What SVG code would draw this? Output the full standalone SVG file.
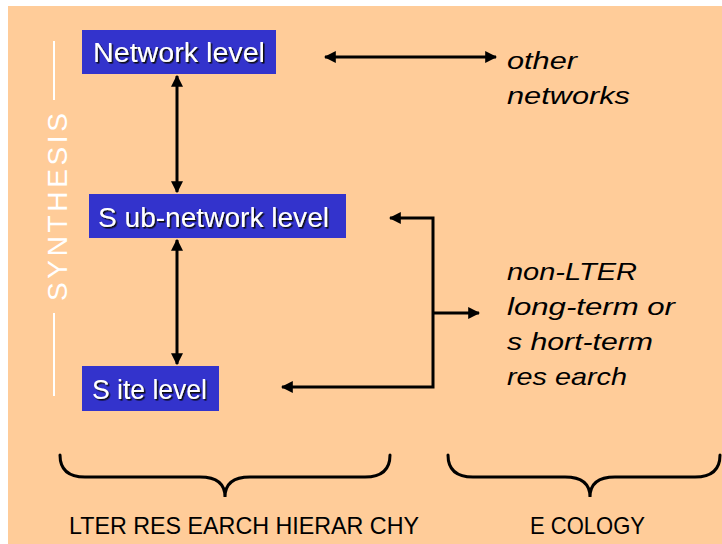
<svg xmlns="http://www.w3.org/2000/svg" width="722" height="544" viewBox="0 0 722 544">
<defs>
<marker id="ah" viewBox="0 0 10 10" refX="9" refY="5" markerWidth="4" markerHeight="4" orient="auto-start-reverse" markerUnits="strokeWidth">
<path d="M0,0 L10,5 L0,10 Z" fill="#000"/>
</marker>
<filter id="shadow" x="-5%" y="-20%" width="110%" height="140%">
<feDropShadow dx="1.5" dy="1.5" stdDeviation="0" flood-color="#111" flood-opacity="1"/>
</filter>
<style>
.box{fill:#3333CC}
.lbl{font-family:"Liberation Sans",Arial,sans-serif;font-size:27px;fill:#fff;filter:url(#shadow)}
.it{font-family:"Liberation Sans",Arial,sans-serif;font-size:24px;font-style:italic;fill:#000}
.cap{font-family:"Liberation Sans",Arial,sans-serif;font-size:24px;fill:#000}
.ln{stroke:#000;stroke-width:3;fill:none}
.br{stroke:#000;stroke-width:3;fill:none;stroke-linecap:round}
</style>
</defs>
<rect x="0" y="0" width="722" height="544" fill="#fff"/>
<rect x="8" y="6" width="714" height="538" fill="#FFCC99"/>

<g id="synthesis">
<line x1="54" y1="41" x2="54" y2="100" stroke="#fff" stroke-width="2"/>
<line x1="54" y1="313" x2="54" y2="396" stroke="#fff" stroke-width="2"/>
<text transform="translate(67,301) rotate(-90)" font-family="'Liberation Sans',Arial,sans-serif" font-size="28" fill="#fff" textLength="188" lengthAdjust="spacing">SYNTHESIS</text>
</g>

<g id="connectors">
<line class="ln" x1="325" y1="57" x2="496" y2="57" marker-start="url(#ah)" marker-end="url(#ah)"/>
<line class="ln" x1="177" y1="76" x2="177" y2="192" marker-start="url(#ah)" marker-end="url(#ah)"/>
<line class="ln" x1="177" y1="240" x2="177" y2="364" marker-start="url(#ah)" marker-end="url(#ah)"/>
<polyline class="ln" points="390,218 433,218 433,387 282,387" marker-start="url(#ah)" marker-end="url(#ah)"/>
<line class="ln" x1="433" y1="313" x2="479" y2="313" marker-end="url(#ah)"/>
</g>

<g id="network-level">
<rect class="box" x="82" y="30" width="194" height="44"/>
<text class="lbl" x="93" y="62" textLength="172" lengthAdjust="spacingAndGlyphs">Network level</text>
</g>

<g id="sub-network-level">
<rect class="box" x="89" y="194" width="257" height="44"/>
<text class="lbl" x="98" y="227" textLength="231" lengthAdjust="spacingAndGlyphs">S ub-network level</text>
</g>

<g id="site-level">
<rect class="box" x="82" y="366" width="137" height="45"/>
<text class="lbl" x="92" y="399" textLength="115" lengthAdjust="spacingAndGlyphs">S ite level</text>
</g>

<g id="other-networks">
<text class="it" x="507" y="69" textLength="70" lengthAdjust="spacingAndGlyphs">other</text>
<text class="it" x="507" y="104" textLength="123" lengthAdjust="spacingAndGlyphs">networks</text>
</g>

<g id="non-lter">
<text class="it" x="507" y="280" textLength="130" lengthAdjust="spacingAndGlyphs">non-LTER</text>
<text class="it" x="507" y="315" textLength="168" lengthAdjust="spacingAndGlyphs">long-term or</text>
<text class="it" x="507" y="350" textLength="146" lengthAdjust="spacingAndGlyphs">s hort-term</text>
<text class="it" x="507" y="385" textLength="120" lengthAdjust="spacingAndGlyphs">res earch</text>
</g>

<g id="lter-hierarchy">
<path class="br" d="M60,455 Q60,477 85,477 L200,477 Q225,477 225,497 Q225,477 250,477 L365,477 Q390,477 390,455"/>
<text class="cap" x="69" y="534" textLength="350" lengthAdjust="spacingAndGlyphs">LTER RES EARCH HIERAR CHY</text>
</g>

<g id="ecology">
<path class="br" d="M448,455 Q448,477 473,477 L565,477 Q590,477 590,497 Q590,477 615,477 L695,477 Q720,477 720,455"/>
<text class="cap" x="530" y="534" textLength="115" lengthAdjust="spacingAndGlyphs">E COLOGY</text>
</g>
</svg>
